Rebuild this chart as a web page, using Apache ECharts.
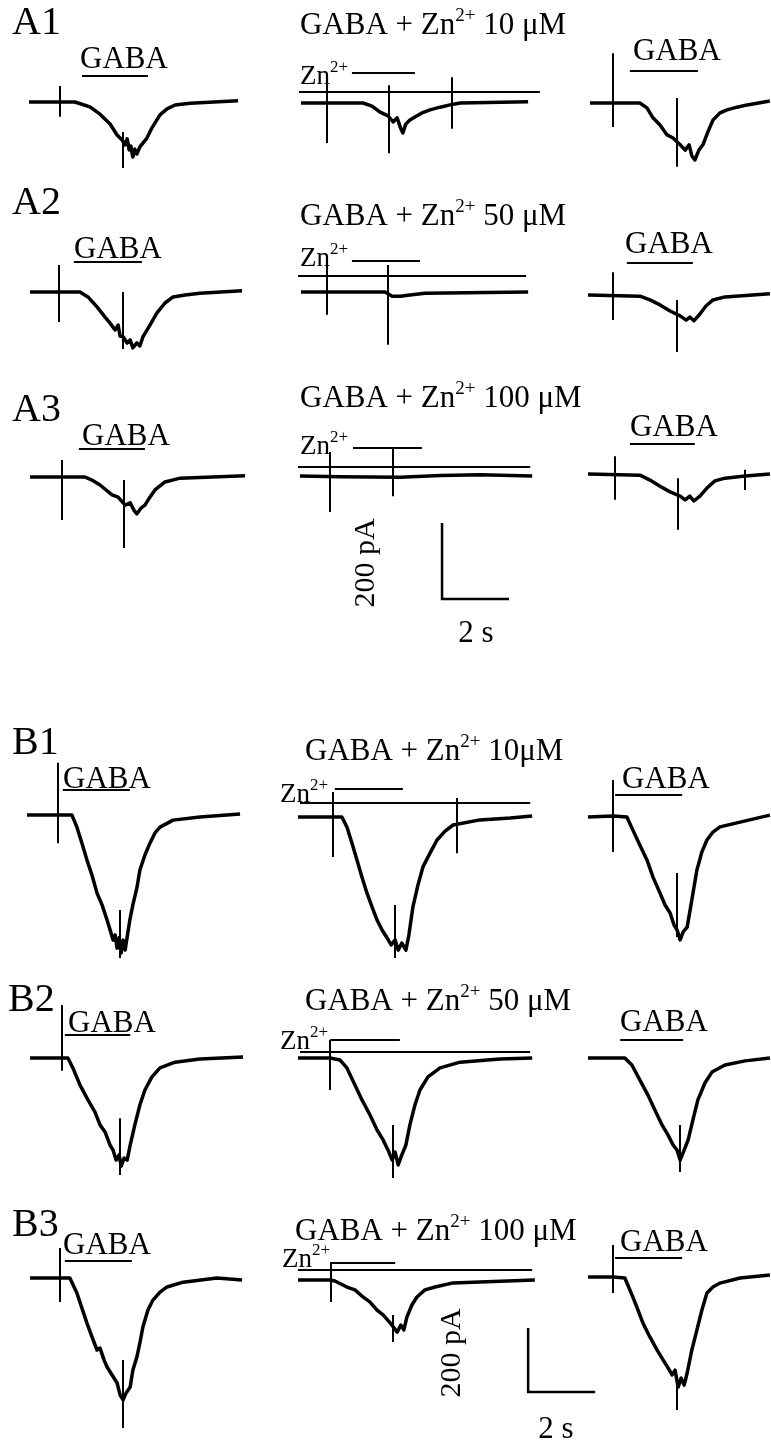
<!DOCTYPE html>
<html><head><meta charset="utf-8">
<script src="https://cdn.jsdelivr.net/npm/echarts@6/dist/echarts.min.js"></script>
<style>html,body{margin:0;padding:0;background:#fff}#c{width:771px;height:1443px}</style>
</head><body><div id="c"></div>
<script>
// ---------- DATA (time in s, current in pA relative to baseline) ----------
// traces: [t, I]; artifacts: [t, Itop, Ibottom]; application bars: [tStart, tEnd, level]
const a1Control = [[0,0],[0.93,0],[1.37,0],[1.82,-13],[2.12,-32],[2.42,-58],[2.63,-87],[2.78,-100],[2.87,-113],[2.93,-97],[2.99,-126],[3.04,-116],[3.10,-145],[3.16,-124],[3.22,-137],[3.31,-118],[3.40,-108],[3.52,-95],[3.67,-68],[3.91,-34],[4.12,-18],[4.36,-8],[4.81,-3],[6.24,3]];
const a1ControlArt = [[0.93,42,-39],[2.81,-79,-174]];
const a1ControlBars = [[1.58,3.55,68]];
const a1Zn = [[0,0],[1.85,0],[2.12,-8],[2.36,-24],[2.60,-34],[2.75,-50],[2.87,-39],[2.96,-63],[3.04,-79],[3.13,-55],[3.25,-45],[3.40,-37],[3.61,-26],[3.85,-18],[4.15,-11],[4.45,-5],[4.75,0],[6.78,3]];
const a1ZnArt = [[0.78,60,-105],[2.63,47,-132],[4.51,68,-68]];
const a1ZnBars = [[1.52,3.40,79],[-0.06,7.13,29]];
const a1Wash = [[0,0],[1.49,0],[1.70,-13],[1.88,-39],[2.09,-58],[2.30,-84],[2.48,-92],[2.69,-110],[2.84,-124],[2.96,-110],[3.04,-139],[3.13,-150],[3.25,-124],[3.37,-110],[3.52,-76],[3.67,-45],[3.88,-26],[4.09,-18],[4.39,-11],[4.69,-5],[5.37,5]];
const a1WashArt = [[0.69,131,-63],[2.60,13,-168]];
const a1WashBars = [[1.19,3.22,84]];

const a2Control = [[0,0],[1.49,0],[1.73,-13],[2.0,-39],[2.24,-66],[2.39,-82],[2.54,-100],[2.63,-87],[2.69,-116],[2.78,-118],[2.90,-134],[2.99,-126],[3.07,-147],[3.19,-134],[3.28,-142],[3.37,-118],[3.58,-87],[3.79,-55],[4.03,-29],[4.27,-13],[4.63,-8],[5.07,-3],[6.33,3]];
const a2ControlArt = [[0.87,71,-79],[2.78,0,-150]];
const a2ControlBars = [[1.31,3.34,79]];
const a2Zn = [[0,0],[2.51,0],[2.72,-11],[2.96,-11],[3.25,-8],[3.70,-3],[6.78,0]];
const a2ZnArt = [[0.78,79,-60],[2.60,71,-139]];
const a2ZnBars = [[1.52,3.55,82],[-0.09,6.72,42]];
const a2Wash = [[0,0],[1.55,-3],[1.85,-13],[2.15,-26],[2.45,-42],[2.75,-55],[2.93,-66],[3.04,-58],[3.16,-68],[3.34,-50],[3.52,-29],[3.73,-13],[4.09,-5],[5.43,3]];
const a2WashArt = [[0.75,60,-66],[2.66,-13,-150]];
const a2WashBars = [[1.16,3.13,84]];

const a3Control = [[0,0],[1.64,0],[1.85,-8],[2.09,-21],[2.45,-47],[2.63,-53],[2.84,-74],[2.99,-68],[3.10,-87],[3.19,-97],[3.31,-82],[3.43,-74],[3.58,-53],[3.73,-34],[4.03,-13],[4.48,-3],[6.42,3]];
const a3ControlArt = [[0.96,45,-113],[2.81,-8,-187]];
const a3ControlBars = [[1.46,3.43,74]];
const a3Zn = [[0,0],[1.2,-2],[2.99,-3],[4.2,1],[5.37,3],[6.93,0]];
const a3ZnArt = [[0.90,63,-95],[2.78,74,-53]];
const a3ZnBars = [[1.58,3.64,74],[-0.06,6.87,24]];
const a3Wash = [[0,0],[1.55,-3],[1.85,-16],[2.15,-32],[2.45,-47],[2.75,-58],[2.90,-68],[3.04,-58],[3.16,-71],[3.34,-58],[3.55,-37],[3.79,-18],[4.09,-11],[4.69,-5],[5.43,0]];
const a3WashArt = [[0.81,47,-68],[2.69,-11,-147],[4.69,11,-42]];
const a3WashBars = [[1.25,3.19,79]];

const b1Control = [[0,0],[0.99,0],[1.34,0],[1.49,-38],[1.64,-88],[1.79,-141],[1.94,-188],[2.09,-244],[2.24,-281],[2.39,-328],[2.48,-359],[2.57,-391],[2.63,-375],[2.69,-416],[2.75,-384],[2.81,-431],[2.87,-391],[2.93,-422],[2.99,-381],[3.07,-328],[3.16,-281],[3.28,-228],[3.37,-172],[3.52,-125],[3.67,-88],[3.82,-56],[3.97,-38],[4.36,-16],[5.16,-6],[6.36,3]];
const b1ControlArt = [[0.93,163,-88],[2.78,-297,-447]];
const b1ControlBars = [[1.07,3.07,78]];
const b1Zn = [[0,0],[1.04,0],[1.31,0],[1.46,-31],[1.61,-81],[1.76,-134],[1.91,-188],[2.06,-238],[2.21,-281],[2.36,-322],[2.51,-353],[2.66,-378],[2.78,-400],[2.90,-384],[2.99,-416],[3.10,-394],[3.22,-416],[3.31,-369],[3.43,-281],[3.58,-213],[3.73,-156],[3.94,-113],[4.15,-72],[4.39,-44],[4.63,-25],[5.43,-9],[6.33,-3],[6.99,3]];
const b1ZnArt = [[1.04,78,-125],[2.90,-275,-441],[4.75,59,-113]];
const b1ZnBars = [[1.10,3.13,88],[0.06,6.93,44]];
const b1Wash = [[0,0],[0.75,3],[1.16,0],[1.34,-41],[1.55,-88],[1.76,-134],[1.94,-188],[2.15,-238],[2.30,-275],[2.45,-300],[2.57,-338],[2.66,-353],[2.75,-384],[2.84,-359],[2.96,-344],[3.10,-259],[3.25,-166],[3.40,-109],[3.55,-72],[3.73,-47],[3.94,-31],[4.54,-16],[5.43,6]];
const b1WashArt = [[0.75,116,-109],[2.66,-175,-375]];
const b1WashBars = [[0.81,2.81,69]];

const b2Control = [[0,0],[1.13,0],[1.28,-31],[1.49,-84],[1.73,-131],[1.94,-169],[2.09,-209],[2.24,-231],[2.39,-272],[2.48,-288],[2.57,-319],[2.66,-303],[2.72,-338],[2.81,-313],[2.90,-319],[2.99,-272],[3.13,-209],[3.28,-147],[3.43,-100],[3.64,-59],[3.88,-31],[4.33,-13],[5.07,-3],[6.36,3]];
const b2ControlArt = [[0.96,166,-40],[2.69,-188,-366]];
const b2ControlBars = [[1.04,2.99,72]];
const b2Zn = [[0,0],[0.96,0],[1.25,-6],[1.46,-31],[1.70,-84],[1.91,-131],[2.15,-178],[2.36,-225],[2.54,-256],[2.69,-288],[2.81,-319],[2.90,-294],[2.99,-334],[3.10,-303],[3.22,-272],[3.34,-209],[3.49,-147],[3.64,-100],[3.88,-59],[4.24,-31],[4.84,-13],[6.03,-3],[6.99,0]];
const b2ZnArt = [[0.96,56,-100],[2.84,-209,-375]];
const b2ZnBars = [[0.96,3.04,56],[0.06,6.93,19]];
const b2Wash = [[0,0],[1.10,0],[1.31,-22],[1.55,-69],[1.79,-116],[2.0,-163],[2.21,-209],[2.39,-241],[2.54,-272],[2.66,-288],[2.75,-319],[2.87,-288],[2.99,-256],[3.13,-194],[3.28,-131],[3.49,-78],[3.70,-44],[4.09,-22],[4.69,-9],[5.43,0]];
const b2WashArt = [[2.75,-209,-356]];
const b2WashBars = [[0.96,2.84,56]];

const b3Control = [[0,0],[1.19,0],[1.40,-47],[1.55,-94],[1.70,-141],[1.85,-184],[2.0,-225],[2.09,-219],[2.21,-256],[2.30,-278],[2.45,-303],[2.60,-328],[2.69,-366],[2.78,-381],[2.87,-359],[2.99,-341],[3.07,-288],[3.19,-247],[3.28,-203],[3.37,-153],[3.52,-100],[3.67,-69],[3.88,-44],[4.09,-28],[4.57,-13],[5.58,0],[6.33,-6]];
const b3ControlArt = [[0.90,94,-75],[2.78,-256,-469]];
const b3ControlBars = [[1.04,3.04,53]];
const b3Zn = [[0,0],[0.96,0],[1.10,-3],[1.46,-22],[1.70,-31],[1.94,-53],[2.15,-69],[2.36,-94],[2.54,-109],[2.75,-134],[2.87,-150],[2.96,-163],[3.07,-141],[3.16,-156],[3.25,-116],[3.40,-78],[3.55,-53],[3.79,-31],[4.09,-22],[4.63,-9],[5.43,-6],[7.07,0]];
const b3ZnArt = [[0.99,53,-69],[2.84,-109,-194]];
const b3ZnBars = [[0.96,2.90,53],[0,6.99,31]];
const b3Wash = [[0,0],[0.75,0],[1.10,-3],[1.34,-63],[1.49,-103],[1.64,-144],[1.85,-188],[2.06,-228],[2.24,-259],[2.39,-284],[2.51,-306],[2.60,-291],[2.69,-344],[2.78,-316],[2.87,-338],[2.96,-300],[3.10,-228],[3.25,-166],[3.40,-103],[3.55,-50],[3.73,-31],[3.94,-19],[4.54,-3],[5.43,6]];
const b3WashArt = [[0.75,100,-50],[2.66,-322,-416]];
const b3WashBars = [[0.81,2.81,59]];

const rowLabels = ['A1','A2','A3','B1','B2','B3'];
const concLabels = ['10 μM','50 μM','100 μM','10μM','50 μM','100 μM'];
const SCALE_PA = 200, SCALE_S = 2;

// ---------- LAYOUT ----------
const PX_PER_S = 33.5;
const PX_PER_PA = {A: 0.38, B: 0.32};
const SERIF = '"Liberation Serif","Times New Roman",serif';
const panels = [
  {d:a1Control,art:a1ControlArt,bars:a1ControlBars,x0:29,y0:102,s:'A'},
  {d:a1Zn,art:a1ZnArt,bars:a1ZnBars,x0:301,y0:103,s:'A'},
  {d:a1Wash,art:a1WashArt,bars:a1WashBars,x0:590,y0:103,s:'A'},
  {d:a2Control,art:a2ControlArt,bars:a2ControlBars,x0:30,y0:292,s:'A'},
  {d:a2Zn,art:a2ZnArt,bars:a2ZnBars,x0:301,y0:292,s:'A'},
  {d:a2Wash,art:a2WashArt,bars:a2WashBars,x0:588,y0:295,s:'A'},
  {d:a3Control,art:a3ControlArt,bars:a3ControlBars,x0:30,y0:477,s:'A'},
  {d:a3Zn,art:a3ZnArt,bars:a3ZnBars,x0:300,y0:476,s:'A',scale:[4.24,-124]},
  {d:a3Wash,art:a3WashArt,bars:a3WashBars,x0:588,y0:474,s:'A'},
  {d:b1Control,art:b1ControlArt,bars:b1ControlBars,x0:27,y0:815,s:'B'},
  {d:b1Zn,art:b1ZnArt,bars:b1ZnBars,x0:298,y0:817,s:'B'},
  {d:b1Wash,art:b1WashArt,bars:b1WashBars,x0:588,y0:817,s:'B'},
  {d:b2Control,art:b2ControlArt,bars:b2ControlBars,x0:30,y0:1058,s:'B'},
  {d:b2Zn,art:b2ZnArt,bars:b2ZnBars,x0:298,y0:1058,s:'B'},
  {d:b2Wash,art:b2WashArt,bars:b2WashBars,x0:588,y0:1058,s:'B'},
  {d:b3Control,art:b3ControlArt,bars:b3ControlBars,x0:30,y0:1278,s:'B'},
  {d:b3Zn,art:b3ZnArt,bars:b3ZnBars,x0:298,y0:1280,s:'B',scale:[6.87,-150]},
  {d:b3Wash,art:b3WashArt,bars:b3WashBars,x0:588,y0:1277,s:'B'}
];

const PADL = 20, PADR = 262, PADT = 110, PADB = 170;
const grids = [], xAxes = [], yAxes = [], series = [];
panels.forEach((p, i) => {
  const ppa = PX_PER_PA[p.s];
  grids.push({left: p.x0 - PADL, top: p.y0 - PADT, width: PADL + PADR, height: PADT + PADB,
    containLabel: false, outerBoundsMode: 'none'});
  xAxes.push({type:'value', gridIndex:i, min:-PADL/PX_PER_S, max:PADR/PX_PER_S, show:false});
  yAxes.push({type:'value', gridIndex:i, min:-PADB/ppa, max:PADT/ppa, show:false});
  series.push({type:'line', xAxisIndex:i, yAxisIndex:i, data:p.d, showSymbol:false, symbol:'none', clip:false, silent:true,
    lineStyle:{color:'#000', width:3.5, join:'round'}, z:2, animation:false});
  const segs = p.art.map(a => ({coords:[[a[0],a[1]],[a[0],a[2]]]}))
    .concat(p.bars.map(b => ({coords:[[b[0],b[2]],[b[1],b[2]]]})));
  series.push({type:'lines', coordinateSystem:'cartesian2d', xAxisIndex:i, yAxisIndex:i, data:segs, clip:false, silent:true,
    lineStyle:{color:'#000', width:2, opacity:1, curveness:0}, z:3, animation:false});
  if (p.scale) {
    const [t, I] = p.scale;
    series.push({type:'lines', coordinateSystem:'cartesian2d', polyline:true, xAxisIndex:i, yAxisIndex:i, clip:false, silent:true,
      data:[{coords:[[t,I],[t,I-SCALE_PA],[t+SCALE_S,I-SCALE_PA]]}], lineStyle:{color:'#000', width:2.5, opacity:1}, z:3, animation:false});
  }
});

// ---------- TEXT ----------
function txt(x, y, text, size, extra) {
  return Object.assign({type:'text', x:x, y:y, silent:true,
    style:{text:text, fill:'#000', font: size + 'px ' + SERIF, verticalAlign:'middle', align:'left'}}, extra || {});
}
function supText(x, y, pre, sup, post, size, supSize) {
  return {type:'text', x:x, y:y, silent:true, style:{
    text:'{t|' + pre + '}{s|' + sup + '}' + (post ? '{t|' + post + '}' : ''),
    verticalAlign:'middle', align:'left', fill:'#000',
    rich:{t:{fontSize:size, fontFamily:SERIF, lineHeight:size+4, verticalAlign:'bottom', fill:'#000'},
          s:{fontSize:supSize, fontFamily:SERIF, lineHeight:supSize, verticalAlign:'top', fill:'#000'}}}};
}
const graphic = [];
const labelPos = [[12,23],[12,203],[12,410],[12,743],[8,1000],[12,1225]];
rowLabels.forEach((l, i) => graphic.push(txt(labelPos[i][0], labelPos[i][1], l, 40)));
const titlePos = [[300,24],[300,215],[300,397],[305,750],[305,1000],[295,1230]];
concLabels.forEach((c, i) => graphic.push(supText(titlePos[i][0], titlePos[i][1], 'GABA + Zn', '2+', ' ' + c, 31, 19)));
const gabaPos = [[80,60],[633,52],[74,250],[625,245],[82,437],[630,428],[63,780],[622,780],[68,1024],[620,1023],[63,1246],[620,1243]];
gabaPos.forEach(p => graphic.push(txt(p[0], p[1], 'GABA', 31)));
const znPos = [[300,75],[300,257],[300,445],[280,793],[280,1040],[282,1258]];
znPos.forEach(p => graphic.push(supText(p[0], p[1], 'Zn', '2+', '', 27, 17)));
graphic.push(txt(366, 563, SCALE_PA + ' pA', 30, {rotation:Math.PI/2}));
graphic[graphic.length-1].style.align = 'center';
graphic.push(txt(476, 634, SCALE_S + ' s', 31));
graphic[graphic.length-1].style.align = 'center';
graphic.push(txt(452, 1353, SCALE_PA + ' pA', 30, {rotation:Math.PI/2}));
graphic[graphic.length-1].style.align = 'center';
graphic.push(txt(556, 1430, SCALE_S + ' s', 31));
graphic[graphic.length-1].style.align = 'center';

const chart = echarts.init(document.getElementById('c'), null, {renderer:'canvas'});
chart.setOption({backgroundColor:'#fff', animation:false, grid:grids, xAxis:xAxes, yAxis:yAxes, series:series, graphic:graphic});
</script></body></html>
